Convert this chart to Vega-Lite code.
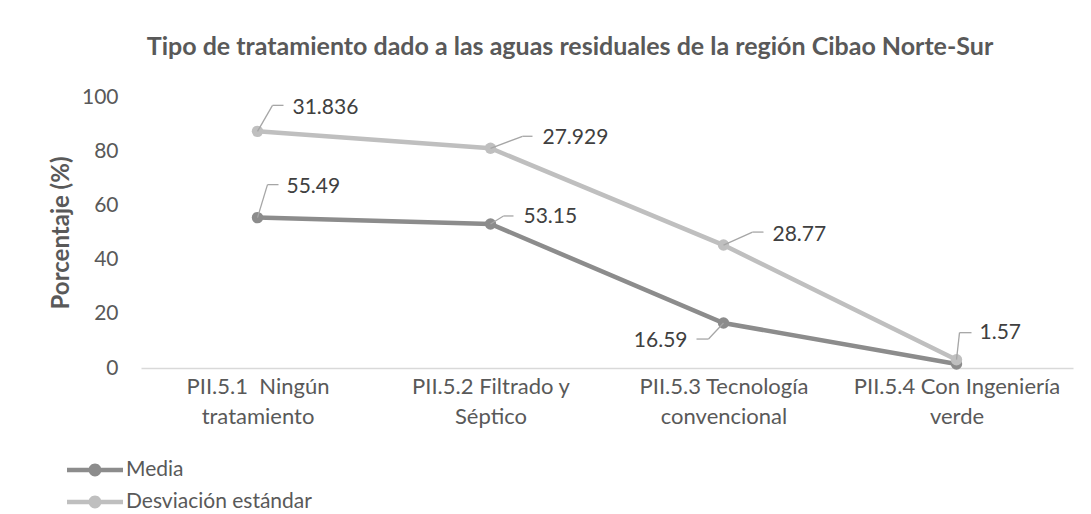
{
  "$schema": "https://vega.github.io/schema/vega-lite/v6.json",
  "autosize": "none",
  "width": 932,
  "height": 271,
  "padding": {"left": 141, "top": 97, "right": 18, "bottom": 146},
  "background": "white",
  "config": {
    "font": "Lato",
    "view": {"stroke": null},
    "axis": {"labelFont": "Lato", "titleFont": "Lato"},
    "legend": {"labelFont": "Lato"}
  },
  "title": {
    "text": "Tipo de tratamiento dado a las aguas residuales de la región Cibao Norte-Sur",
    "fontSize": 25,
    "fontWeight": "bold",
    "color": "#595959",
    "anchor": "middle",
    "dx": -37,
    "offset": 26
  },
  "data": {
    "values": [
      {"cat": "PII.5.1  Ningún tratamiento", "serie": "Media", "value": 55.49},
      {"cat": "PII.5.2 Filtrado y Séptico", "serie": "Media", "value": 53.15},
      {"cat": "PII.5.3 Tecnología convencional", "serie": "Media", "value": 16.59},
      {"cat": "PII.5.4 Con Ingeniería verde", "serie": "Media", "value": 1.5},
      {"cat": "PII.5.1  Ningún tratamiento", "serie": "Desviación estándar", "value": 31.836},
      {"cat": "PII.5.2 Filtrado y Séptico", "serie": "Desviación estándar", "value": 27.929},
      {"cat": "PII.5.3 Tecnología convencional", "serie": "Desviación estándar", "value": 28.77},
      {"cat": "PII.5.4 Con Ingeniería verde", "serie": "Desviación estándar", "value": 1.57}
    ]
  },
  "transform": [
    {"stack": "value", "groupby": ["cat"], "sort": [{"field": "serie", "order": "descending"}], "as": ["y0", "y1"]}
  ],
  "encoding": {
    "x": {
      "field": "cat",
      "type": "nominal",
      "sort": null,
      "scale": {"type": "point", "padding": 0.5},
      "axis": {
        "title": null,
        "labelAngle": 0,
        "labelFontSize": 22,
        "labelColor": "#595959",
        "labelPadding": 18,
        "labelLineHeight": 30,
        "labelBaseline": "middle",
        "labelLimit": 0,
        "ticks": false,
        "domainColor": "#d9d9d9",
        "domainWidth": 1.5,
        "grid": false,
        "labelExpr": "datum.label == 'PII.5.1  Ningún tratamiento' ? ['PII.5.1\u00a0\u00a0Ningún', 'tratamiento'] : datum.label == 'PII.5.2 Filtrado y Séptico' ? ['PII.5.2 Filtrado y', 'Séptico'] : datum.label == 'PII.5.3 Tecnología convencional' ? ['PII.5.3 Tecnología', 'convencional'] : ['PII.5.4 Con Ingeniería', 'verde']"
      }
    },
    "y": {
      "field": "y1",
      "type": "quantitative",
      "scale": {"domain": [0, 100]},
      "axis": {
        "title": "Porcentaje (%)",
        "titleFontSize": 24,
        "titleFontWeight": "bold",
        "titleColor": "#595959",
        "titlePadding": 8,
        "labelFontSize": 21,
        "labelColor": "#595959",
        "labelPadding": 23,
        "values": [0, 20, 40, 60, 80, 100],
        "ticks": false,
        "domain": false,
        "grid": false
      }
    }
  },
  "layer": [
    {
      "mark": {"type": "line", "strokeWidth": 4.5},
      "encoding": {
        "color": {
          "field": "serie",
          "type": "nominal",
          "scale": {"domain": ["Media", "Desviación estándar"], "range": ["#8c8c8c", "#bfbfbf"]},
          "legend": {
            "title": null,
            "orient": "none",
            "legendX": -60,
            "legendY": 359,
            "direction": "vertical",
            "padding": 0,
            "labelFontSize": 21,
            "labelColor": "#595959",
            "labelOffset": 17,
            "labelLimit": 0,
            "symbolType": "M-2,-0.16H2V0.16H-2Z M-0.46,0A0.46,0.46 0 1,1 0.46,0A0.46,0.46 0 1,1 -0.46,0Z",
            "symbolSize": 784,
            "symbolStrokeWidth": 0,
            "rowPadding": 8,
            "encode": {"symbols": {"update": {"fill": {"scale": "color", "field": "value"}, "opacity": {"value": 1}}}}
          }
        }
      }
    },
    {
      "mark": {"type": "point", "filled": true, "size": 130, "opacity": 1},
      "encoding": {
        "color": {"field": "serie", "type": "nominal"}
      }
    },
    {"transform": [{"filter": "datum.cat == 'PII.5.1  Ningún tratamiento' && datum.serie != 'Media'"}], "mark": {"type": "rule", "color": "#a6a6a6", "strokeWidth": 1.3, "x2Offset": 15, "y2Offset": -26}, "encoding": {"x2": {"field": "cat"}, "y2": {"field": "y1"}}},
    {"transform": [{"filter": "datum.cat == 'PII.5.1  Ningún tratamiento' && datum.serie != 'Media'"}], "mark": {"type": "rule", "color": "#a6a6a6", "strokeWidth": 1.3, "xOffset": 15, "yOffset": -26, "x2Offset": 26, "y2Offset": -26}, "encoding": {"x2": {"field": "cat"}, "y2": {"field": "y1"}}},
    {"transform": [{"filter": "datum.cat == 'PII.5.1  Ningún tratamiento' && datum.serie != 'Media'"}], "mark": {"type": "text", "align": "left", "baseline": "middle", "dx": 35, "dy": -23, "fontSize": 21, "color": "#404040"}, "encoding": {"text": {"field": "value", "type": "quantitative"}}},

    {"transform": [{"filter": "datum.cat == 'PII.5.1  Ningún tratamiento' && datum.serie == 'Media'"}], "mark": {"type": "rule", "color": "#a6a6a6", "strokeWidth": 1.3, "x2Offset": 10, "y2Offset": -33}, "encoding": {"x2": {"field": "cat"}, "y2": {"field": "y1"}}},
    {"transform": [{"filter": "datum.cat == 'PII.5.1  Ningún tratamiento' && datum.serie == 'Media'"}], "mark": {"type": "rule", "color": "#a6a6a6", "strokeWidth": 1.3, "xOffset": 10, "yOffset": -33, "x2Offset": 21, "y2Offset": -33}, "encoding": {"x2": {"field": "cat"}, "y2": {"field": "y1"}}},
    {"transform": [{"filter": "datum.cat == 'PII.5.1  Ningún tratamiento' && datum.serie == 'Media'"}], "mark": {"type": "text", "align": "left", "baseline": "middle", "dx": 29, "dy": -31, "fontSize": 21, "color": "#404040"}, "encoding": {"text": {"field": "value", "type": "quantitative"}}},

    {"transform": [{"filter": "datum.cat == 'PII.5.2 Filtrado y Séptico' && datum.serie != 'Media'"}], "mark": {"type": "rule", "color": "#a6a6a6", "strokeWidth": 1.3, "x2Offset": 32, "y2Offset": -12}, "encoding": {"x2": {"field": "cat"}, "y2": {"field": "y1"}}},
    {"transform": [{"filter": "datum.cat == 'PII.5.2 Filtrado y Séptico' && datum.serie != 'Media'"}], "mark": {"type": "rule", "color": "#a6a6a6", "strokeWidth": 1.3, "xOffset": 32, "yOffset": -12, "x2Offset": 42, "y2Offset": -12}, "encoding": {"x2": {"field": "cat"}, "y2": {"field": "y1"}}},
    {"transform": [{"filter": "datum.cat == 'PII.5.2 Filtrado y Séptico' && datum.serie != 'Media'"}], "mark": {"type": "text", "align": "left", "baseline": "middle", "dx": 52, "dy": -10, "fontSize": 21, "color": "#404040"}, "encoding": {"text": {"field": "value", "type": "quantitative"}}},

    {"transform": [{"filter": "datum.cat == 'PII.5.2 Filtrado y Séptico' && datum.serie == 'Media'"}], "mark": {"type": "rule", "color": "#a6a6a6", "strokeWidth": 1.3, "x2Offset": 13, "y2Offset": -8}, "encoding": {"x2": {"field": "cat"}, "y2": {"field": "y1"}}},
    {"transform": [{"filter": "datum.cat == 'PII.5.2 Filtrado y Séptico' && datum.serie == 'Media'"}], "mark": {"type": "rule", "color": "#a6a6a6", "strokeWidth": 1.3, "xOffset": 13, "yOffset": -8, "x2Offset": 23, "y2Offset": -8}, "encoding": {"x2": {"field": "cat"}, "y2": {"field": "y1"}}},
    {"transform": [{"filter": "datum.cat == 'PII.5.2 Filtrado y Séptico' && datum.serie == 'Media'"}], "mark": {"type": "text", "align": "left", "baseline": "middle", "dx": 33, "dy": -7, "fontSize": 21, "color": "#404040"}, "encoding": {"text": {"field": "value", "type": "quantitative"}}},

    {"transform": [{"filter": "datum.cat == 'PII.5.3 Tecnología convencional' && datum.serie != 'Media'"}], "mark": {"type": "rule", "color": "#a6a6a6", "strokeWidth": 1.3, "x2Offset": 29, "y2Offset": -13}, "encoding": {"x2": {"field": "cat"}, "y2": {"field": "y1"}}},
    {"transform": [{"filter": "datum.cat == 'PII.5.3 Tecnología convencional' && datum.serie != 'Media'"}], "mark": {"type": "rule", "color": "#a6a6a6", "strokeWidth": 1.3, "xOffset": 29, "yOffset": -13, "x2Offset": 40, "y2Offset": -13}, "encoding": {"x2": {"field": "cat"}, "y2": {"field": "y1"}}},
    {"transform": [{"filter": "datum.cat == 'PII.5.3 Tecnología convencional' && datum.serie != 'Media'"}], "mark": {"type": "text", "align": "left", "baseline": "middle", "dx": 49, "dy": -10, "fontSize": 21, "color": "#404040"}, "encoding": {"text": {"field": "value", "type": "quantitative"}}},

    {"transform": [{"filter": "datum.cat == 'PII.5.3 Tecnología convencional' && datum.serie == 'Media'"}], "mark": {"type": "rule", "color": "#a6a6a6", "strokeWidth": 1.3, "x2Offset": -15, "y2Offset": 16}, "encoding": {"x2": {"field": "cat"}, "y2": {"field": "y1"}}},
    {"transform": [{"filter": "datum.cat == 'PII.5.3 Tecnología convencional' && datum.serie == 'Media'"}], "mark": {"type": "rule", "color": "#a6a6a6", "strokeWidth": 1.3, "xOffset": -15, "yOffset": 16, "x2Offset": -27, "y2Offset": 16}, "encoding": {"x2": {"field": "cat"}, "y2": {"field": "y1"}}},
    {"transform": [{"filter": "datum.cat == 'PII.5.3 Tecnología convencional' && datum.serie == 'Media'"}], "mark": {"type": "text", "align": "right", "baseline": "middle", "dx": -36, "dy": 18, "fontSize": 21, "color": "#404040"}, "encoding": {"text": {"field": "value", "type": "quantitative"}}},

    {"transform": [{"filter": "datum.cat == 'PII.5.4 Con Ingeniería verde' && datum.serie != 'Media'"}], "mark": {"type": "rule", "color": "#a6a6a6", "strokeWidth": 1.3, "x2Offset": 3, "y2Offset": -27}, "encoding": {"x2": {"field": "cat"}, "y2": {"field": "y1"}}},
    {"transform": [{"filter": "datum.cat == 'PII.5.4 Con Ingeniería verde' && datum.serie != 'Media'"}], "mark": {"type": "rule", "color": "#a6a6a6", "strokeWidth": 1.3, "xOffset": 3, "yOffset": -27, "x2Offset": 15, "y2Offset": -27}, "encoding": {"x2": {"field": "cat"}, "y2": {"field": "y1"}}},
    {"transform": [{"filter": "datum.cat == 'PII.5.4 Con Ingeniería verde' && datum.serie != 'Media'"}], "mark": {"type": "text", "align": "left", "baseline": "middle", "dx": 23, "dy": -27, "fontSize": 21, "color": "#404040"}, "encoding": {"text": {"field": "value", "type": "quantitative"}}}
  ]
}
